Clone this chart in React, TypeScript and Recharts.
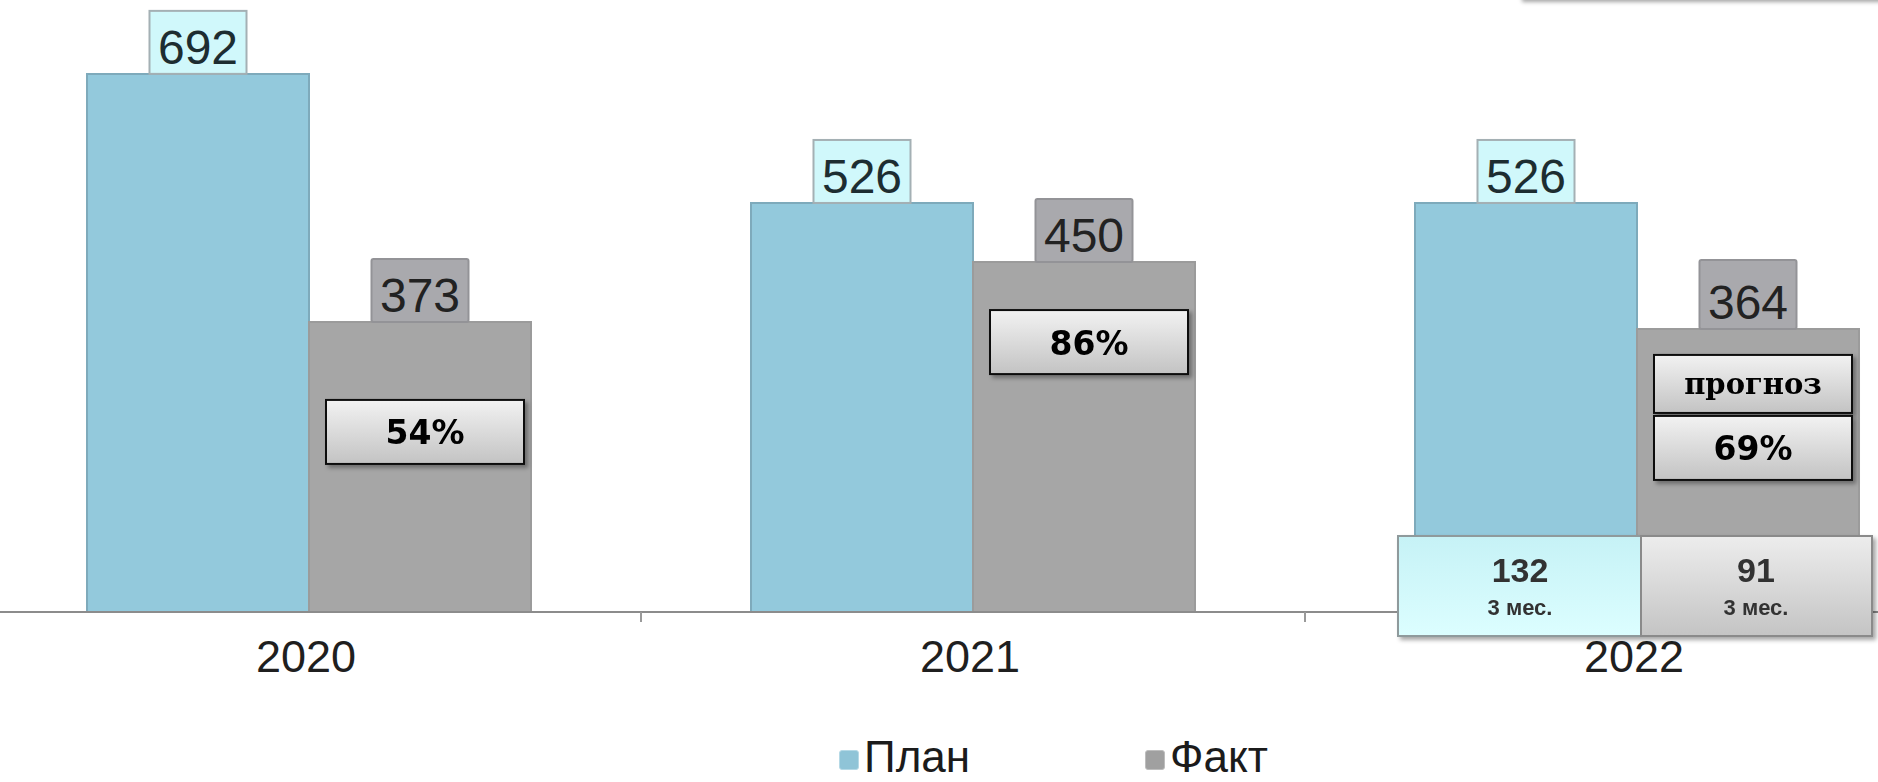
import { Bar, BarChart, LabelList, Legend, XAxis, YAxis } from "recharts";

const years = ["2020", "2021", "2022"];
const plan = [692, 526, 526];
const fact = [373, 450, 364];
const factShare = ["54%", "86%", "69%"];
const forecastNote = [null, null, "прогноз"];
const planQ1 = [null, null, 132];
const factQ1 = [null, null, 91];
const q1Caption = "3 мес.";

const data = years.map((year, i) => ({ year, plan: plan[i], fact: fact[i] }));

const CHART_W = 1992;
const CHART_H = 782;
const SHIFT_X = -23;
const AXIS_Y = 612;
const BAND = CHART_W / years.length;
// px below the top of the Факт bar where the share box starts
const SHARE_OFFSET = [78, 48, 87];

const SANS = "'Liberation Sans', Arial, sans-serif";

function box(props: any) {
  const vb = props.viewBox ?? {};
  return {
    x: Number(props.x ?? vb.x),
    y: Number(props.y ?? vb.y),
    width: Number(props.width ?? vb.width),
    index: Number(props.index ?? 0),
    value: props.value
  };
}

function renderPlanLabel(props: any) {
  const { x, y, width, value } = box(props);
  const cx = x + width / 2;
  const w = 97;
  const h = 63;
  return (
    <g>
      <rect x={cx - w / 2} y={y - h} width={w} height={h} fill="#d0f8fb" stroke="#a4b0b4" strokeWidth={2} />
      <text x={cx} y={y - h / 2 + 5} textAnchor="middle" dominantBaseline="central" fontFamily={SANS} fontSize={48} fill="#1d2d31">
        {value}
      </text>
    </g>
  );
}

function renderFactLabel(props: any) {
  const { x, y, width, index, value } = box(props);
  const cx = x + width / 2;
  const w = 97;
  const h = 63;
  const bx = cx + 5 - 99;
  const note = forecastNote[index];
  const shareTop = y + SHARE_OFFSET[index];
  return (
    <g>
      <rect x={cx - w / 2} y={y - h - (note ? 6 : 0)} width={w} height={h + (note ? 6 : 0)} fill="#a9a9ad" stroke="#939397" strokeWidth={2} rx={2} />
      <text x={cx} y={y - h / 2 + 5} textAnchor="middle" dominantBaseline="central" fontFamily={SANS} fontSize={48} fill="#222">
        {value}
      </text>
      {note && (
        <g filter="url(#tagShadow)">
          <rect x={bx} y={y + 26} width={198} height={58} fill="url(#shareGrad)" stroke="#111" strokeWidth={2} />
          <text x={bx + 99} y={y + 55} textAnchor="middle" dominantBaseline="central" fontFamily="'DejaVu Serif', serif" fontWeight="bold" fontSize={29} fill="#000">
            {note}
          </text>
        </g>
      )}
      <g filter="url(#tagShadow)">
        <rect x={bx} y={shareTop} width={198} height={64} fill="url(#shareGrad)" stroke="#111" strokeWidth={2} />
        <text x={bx + 99} y={shareTop + 33} textAnchor="middle" dominantBaseline="central" fontFamily="'DejaVu Sans', Verdana, sans-serif" fontWeight="bold" fontSize={33} fill="#000">
          {factShare[index]}
        </text>
      </g>
      {planQ1[index] != null && (
        <g filter="url(#tagShadow)">
          <rect x={x - width - 17} y={AXIS_Y - 76} width={width + 21} height={100} fill="url(#planQ1Grad)" stroke="#8f9a9c" strokeWidth={2} />
          <text x={x - width / 2 - 6} y={AXIS_Y - 42} textAnchor="middle" dominantBaseline="central" fontFamily={SANS} fontWeight="bold" fontSize={34} fill="#333">
            {planQ1[index]}
          </text>
          <text x={x - width / 2 - 6} y={AXIS_Y - 5} textAnchor="middle" dominantBaseline="central" fontFamily={SANS} fontWeight="bold" fontSize={22} fill="#333">
            {q1Caption}
          </text>
          <rect x={x + 4} y={AXIS_Y - 76} width={width + 9} height={100} fill="url(#factQ1Grad)" stroke="#8a8a8a" strokeWidth={2} />
          <text x={x + width / 2 + 8} y={AXIS_Y - 42} textAnchor="middle" dominantBaseline="central" fontFamily={SANS} fontWeight="bold" fontSize={34} fill="#333">
            {factQ1[index]}
          </text>
          <text x={x + width / 2 + 8} y={AXIS_Y - 5} textAnchor="middle" dominantBaseline="central" fontFamily={SANS} fontWeight="bold" fontSize={22} fill="#333">
            {q1Caption}
          </text>
        </g>
      )}
    </g>
  );
}

function YearTick(props: any) {
  const { x, index, payload } = props;
  return (
    <g>
      <text x={x - 3} y={656} textAnchor="middle" dominantBaseline="central" fontFamily={SANS} fontSize={45} fill="#1f1f1f">
        {payload.value}
      </text>
      {index < years.length - 1 && <line x1={x + BAND / 2} x2={x + BAND / 2} y1={AXIS_Y} y2={AXIS_Y + 10} stroke="#9a9a9a" strokeWidth={2} />}
    </g>
  );
}

function LegendContent() {
  const item = (left: number, color: string, border: string, label: string) => (
    <>
      <span style={{ position: "absolute", left, top: 28, width: 20, height: 20, borderRadius: 3, background: color, border: `1px solid ${border}`, boxSizing: "border-box" }} />
      <span style={{ position: "absolute", left: left + 25, top: 13, height: 44, lineHeight: "44px" }}>{label}</span>
    </>
  );
  return (
    <div style={{ position: "relative", height: 60, fontFamily: SANS, fontSize: 44, color: "#1b1b1b" }}>
      {item(862, "#8fc4d7", "#b5d9e6", "План")}
      {item(1168, "#a0a0a0", "#bdbdbd", "Факт")}
    </div>
  );
}

export default function App() {
  return (
    <div style={{ position: "relative", width: 1878, height: 782, overflow: "hidden", background: "#fff" }}>
      <style>{"body{margin:0}"}</style>
      <div style={{ position: "absolute", left: 1522, top: -30, width: 400, height: 30, background: "#fff", boxShadow: "0 2px 4px rgba(0,0,0,0.35)" }} />
      <div style={{ position: "absolute", left: SHIFT_X, top: 0 }}>
        <BarChart width={CHART_W} height={CHART_H} data={data} margin={{ top: 0, right: 0, bottom: 0, left: 0 }} barCategoryGap={110} barGap={0}>
          <defs>
            <linearGradient id="shareGrad" x1="0" y1="0" x2="0" y2="1">
              <stop offset="0%" stopColor="#f2f2f2" />
              <stop offset="100%" stopColor="#c3c3c3" />
            </linearGradient>
            <linearGradient id="planQ1Grad" x1="0" y1="0" x2="0" y2="1">
              <stop offset="0%" stopColor="#c6f2f6" />
              <stop offset="100%" stopColor="#dcfeff" />
            </linearGradient>
            <linearGradient id="factQ1Grad" x1="0" y1="0" x2="0" y2="1">
              <stop offset="0%" stopColor="#ededed" />
              <stop offset="100%" stopColor="#c4c4c4" />
            </linearGradient>
            <filter id="tagShadow" x="-10%" y="-10%" width="130%" height="140%">
              <feDropShadow dx={3} dy={3} stdDeviation={2} floodColor="#000" floodOpacity={0.35} />
            </filter>
          </defs>
          <XAxis dataKey="year" height={110} axisLine={{ stroke: "#8c8c8c", strokeWidth: 2 }} tickLine={false} tick={<YearTick />} interval={0} />
          <YAxis hide domain={[0, 787]} />
          <Legend verticalAlign="bottom" content={<LegendContent />} />
          <Bar dataKey="plan" name="План" fill="#93c9dc" stroke="#7eaabb" strokeWidth={2} isAnimationActive={false}>
            <LabelList dataKey="plan" content={renderPlanLabel} />
          </Bar>
          <Bar dataKey="fact" name="Факт" fill="#a6a6a6" stroke="#9b9b9b" strokeWidth={2} isAnimationActive={false}>
            <LabelList dataKey="fact" content={renderFactLabel} />
          </Bar>
        </BarChart>
      </div>
    </div>
  );
}
